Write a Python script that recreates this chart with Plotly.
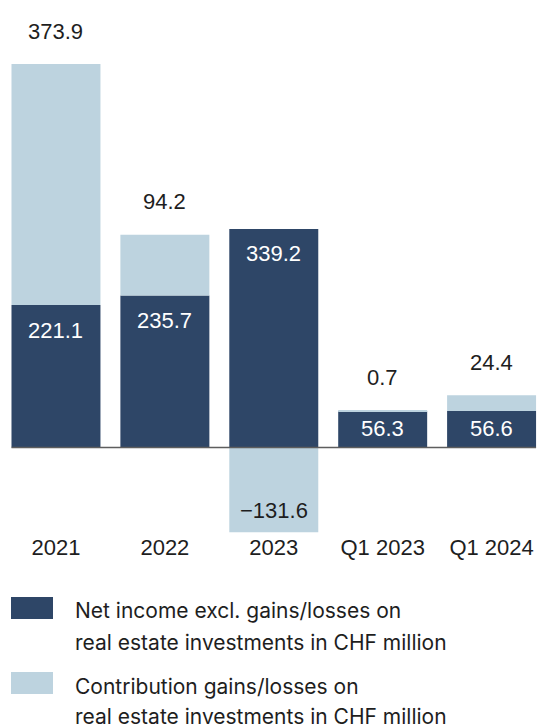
import plotly.graph_objects as go

# Data (CHF million)
categories = ["2021", "2022", "2023", "Q1 2023", "Q1 2024"]
net_income = [221.1, 235.7, 339.2, 56.3, 56.6]
gains_losses = [373.9, 94.2, -131.6, 0.7, 24.4]
legend_labels = [
    ["Net income excl. gains/losses on", "real estate investments in CHF million"],
    ["Contribution gains/losses on", "real estate investments in CHF million"],
]

# Styling
DARK = "#2E4667"
LIGHT = "#BDD3DF"
TEXT = "#1E1E1E"
NUM_FONT = "Liberation Sans, Arial, sans-serif"
LEG_FONT = "Inter, Noto Sans, sans-serif"

W, H = 537, 728
PLOT_H = 534                   # plot area height in px (top margin 0)
Y_MIN, Y_MAX = -134.2, 694.3
PX_PER_UNIT = PLOT_H / (Y_MAX - Y_MIN)
X_RANGE = [-0.514, 4.417]
BAR_WIDTH = 0.817
x_pos = list(range(len(categories)))

fig = go.Figure()
fig.add_trace(go.Bar(x=x_pos, y=net_income, marker=dict(color=DARK, line_width=0),
                     width=BAR_WIDTH, name=" ".join(legend_labels[0]),
                     customdata=categories, hovertemplate="%{customdata}: %{y}<extra></extra>"))
fig.add_trace(go.Bar(x=x_pos, y=gains_losses, marker=dict(color=LIGHT, line_width=0),
                     width=BAR_WIDTH, name=" ".join(legend_labels[1]),
                     customdata=categories, hovertemplate="%{customdata}: %{y}<extra></extra>"))

annotations = []
for xi, ni, gl in zip(x_pos, net_income, gains_losses):
    # white value label near the top of the dark bar (centred when the bar is short)
    bar_px = ni * PX_PER_UNIT
    shift = -25 if bar_px > 60 else -bar_px / 2 + 1
    annotations.append(dict(x=xi, y=ni, xref="x", yref="y", text=f"{ni:.1f}", showarrow=False,
                            yshift=shift, yanchor="middle",
                            font=dict(family=NUM_FONT, size=22, color="white")))
    if gl >= 0:
        annotations.append(dict(x=xi, y=ni + gl, xref="x", yref="y", text=f"{gl:.1f}",
                                showarrow=False, yshift=33, yanchor="middle",
                                font=dict(family=NUM_FONT, size=22, color=TEXT)))
    else:
        annotations.append(dict(x=xi, y=gl, xref="x", yref="y", text=f"\u2212{abs(gl):.1f}",
                                showarrow=False, yshift=22, yanchor="middle",
                                font=dict(family=NUM_FONT, size=22, color=TEXT)))

# Legend drawn by hand below the chart (paper coordinates)
def py(px):
    return (PLOT_H - px) / PLOT_H

def px_x(px):
    return px / W

shapes = [
    dict(type="line", xref="x", yref="y", x0=-BAR_WIDTH / 2, x1=4 + BAR_WIDTH / 2,
         y0=0, y1=0, line=dict(color="#5E5E5E", width=1.5), layer="above"),
]
legend_rows = [(597, 619, DARK, 610, 642), (672, 694, LIGHT, 686, 716)]
for (top, bot, col, l1, l2), lines in zip(legend_rows, legend_labels):
    shapes.append(dict(type="rect", xref="paper", yref="paper",
                       x0=px_x(11), x1=px_x(53), y0=py(bot), y1=py(top),
                       fillcolor=col, line_width=0))
    for yy, txt in zip((l1, l2), lines):
        annotations.append(dict(xref="paper", yref="paper", x=px_x(73), y=py(yy),
                                xanchor="left", yanchor="middle", text=txt, showarrow=False,
                                font=dict(family=LEG_FONT, size=21, color=TEXT)))

fig.update_layout(
    width=W, height=H,
    margin=dict(l=0, r=0, t=0, b=H - PLOT_H, pad=0),
    barmode="relative",
    showlegend=False,
    plot_bgcolor="white",
    paper_bgcolor="white",
    shapes=shapes,
    annotations=annotations,
    xaxis=dict(range=X_RANGE, showgrid=False, zeroline=False, showline=False, ticks="",
               tickmode="array", tickvals=x_pos, ticktext=categories,
               tickfont=dict(family=NUM_FONT, size=22, color=TEXT),
               ticklabelstandoff=-2, fixedrange=True),
    yaxis=dict(range=[Y_MIN, Y_MAX], visible=False, fixedrange=True),
)

fig.write_html("out.html", config={"displayModeBar": False})
